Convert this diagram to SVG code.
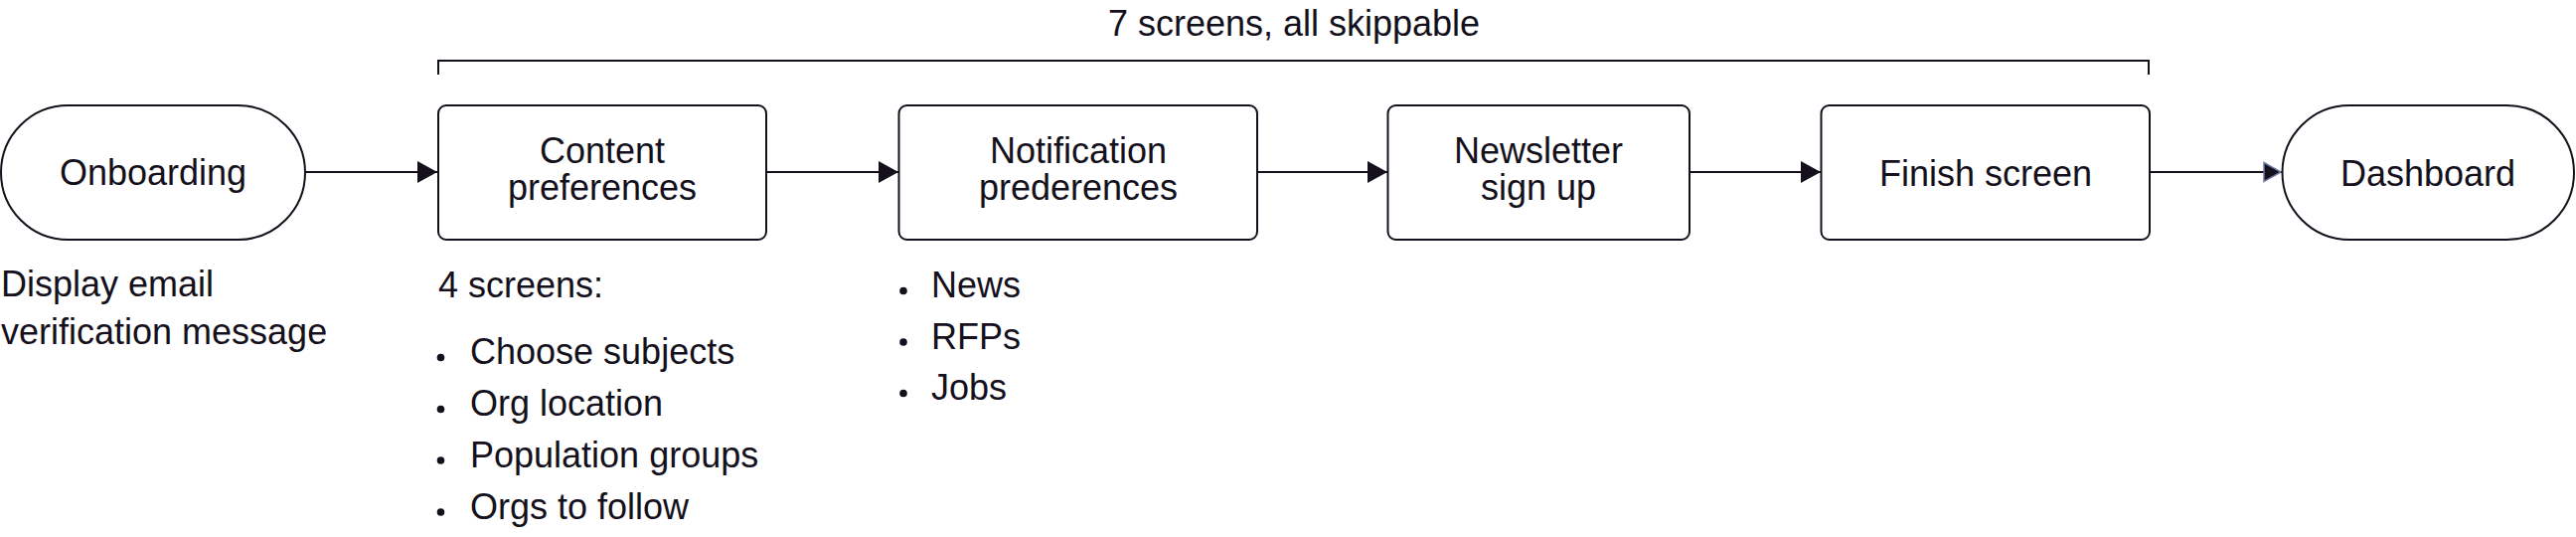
<svg xmlns="http://www.w3.org/2000/svg" width="2592" height="540" viewBox="0 0 2592 540">
<style>
  .shape { fill: #ffffff; stroke: #14101c; stroke-width: 2; }
  .edge { fill: none; stroke: #14101c; stroke-width: 2; }
  text { font-family: "Liberation Sans", Arial, sans-serif; font-size: 36px; fill: #14101c; }
  .c { text-anchor: middle; }
  .dot { fill: #14101c; }
</style>
<defs>
  <marker id="arrow" markerUnits="userSpaceOnUse" markerWidth="22" markerHeight="24" refX="20" refY="11" orient="auto">
    <path d="M0,0 L20,11 L0,22 Z" fill="#14101c"/>
  </marker>
  <marker id="arrow2" markerUnits="userSpaceOnUse" markerWidth="22" markerHeight="24" refX="19" refY="11" orient="auto">
    <path d="M1,1.5 L18,11 L1,20.5 Z" fill="#14101c" stroke="#6b7aa0" stroke-width="1.5"/>
  </marker>
</defs>
<rect width="2592" height="540" fill="#ffffff"/>

<g id="bracket">
  <path class="edge" d="M441,75 L441,61 L2162,61 L2162,75"/>
  <text class="c" x="1302" y="36">7 screens, all skippable</text>
</g>

<g id="connectors">
  <line class="edge" x1="307" y1="173" x2="440" y2="173" marker-end="url(#arrow)"/>
  <line class="edge" x1="771" y1="173" x2="904" y2="173" marker-end="url(#arrow)"/>
  <line class="edge" x1="1265" y1="173" x2="1396" y2="173" marker-end="url(#arrow)"/>
  <line class="edge" x1="1700" y1="173" x2="1832" y2="173" marker-end="url(#arrow)"/>
  <line class="edge" x1="2163" y1="173" x2="2296" y2="173" marker-end="url(#arrow2)"/>
</g>

<g id="onboarding">
  <rect class="shape" x="1" y="106" width="306" height="135" rx="67.5" ry="67.5"/>
  <text class="c" x="154" y="186">Onboarding</text>
</g>

<g id="content-preferences">
  <rect class="shape" x="441" y="106" width="330" height="135" rx="8" ry="8"/>
  <text class="c" x="606" y="164">Content</text>
  <text class="c" x="606" y="201">preferences</text>
</g>

<g id="notification-preferences">
  <rect class="shape" x="904.5" y="106" width="360.5" height="135" rx="8" ry="8"/>
  <text class="c" x="1085" y="164">Notification</text>
  <text class="c" x="1085" y="201">prederences</text>
</g>

<g id="newsletter">
  <rect class="shape" x="1396.5" y="106" width="303.5" height="135" rx="8" ry="8"/>
  <text class="c" x="1548" y="164">Newsletter</text>
  <text class="c" x="1548" y="201">sign up</text>
</g>

<g id="finish-screen">
  <rect class="shape" x="1832.5" y="106" width="330.5" height="135" rx="8" ry="8"/>
  <text class="c" x="1998" y="187">Finish screen</text>
</g>

<g id="dashboard">
  <rect class="shape" x="2296.5" y="106" width="293.5" height="135" rx="67.5" ry="67.5"/>
  <text class="c" x="2443" y="187">Dashboard</text>
</g>

<g id="note-onboarding">
  <text x="1" y="297.5">Display email</text>
  <text x="1" y="346">verification message</text>
</g>

<g id="note-content">
  <text x="441" y="299">4 screens:</text>
  <circle class="dot" cx="443.5" cy="359.5" r="3.8"/>
  <text x="473" y="366">Choose subjects</text>
  <circle class="dot" cx="443.5" cy="411.5" r="3.8"/>
  <text x="473" y="418">Org location</text>
  <circle class="dot" cx="443.5" cy="463" r="3.8"/>
  <text x="473" y="469.5">Population groups</text>
  <circle class="dot" cx="443.5" cy="515" r="3.8"/>
  <text x="473" y="521.5">Orgs to follow</text>
</g>

<g id="note-notification">
  <circle class="dot" cx="909" cy="292.5" r="3.8"/>
  <text x="937" y="299">News</text>
  <circle class="dot" cx="909" cy="344" r="3.8"/>
  <text x="937" y="350.5">RFPs</text>
  <circle class="dot" cx="909" cy="395.5" r="3.8"/>
  <text x="937" y="402">Jobs</text>
</g>
</svg>
